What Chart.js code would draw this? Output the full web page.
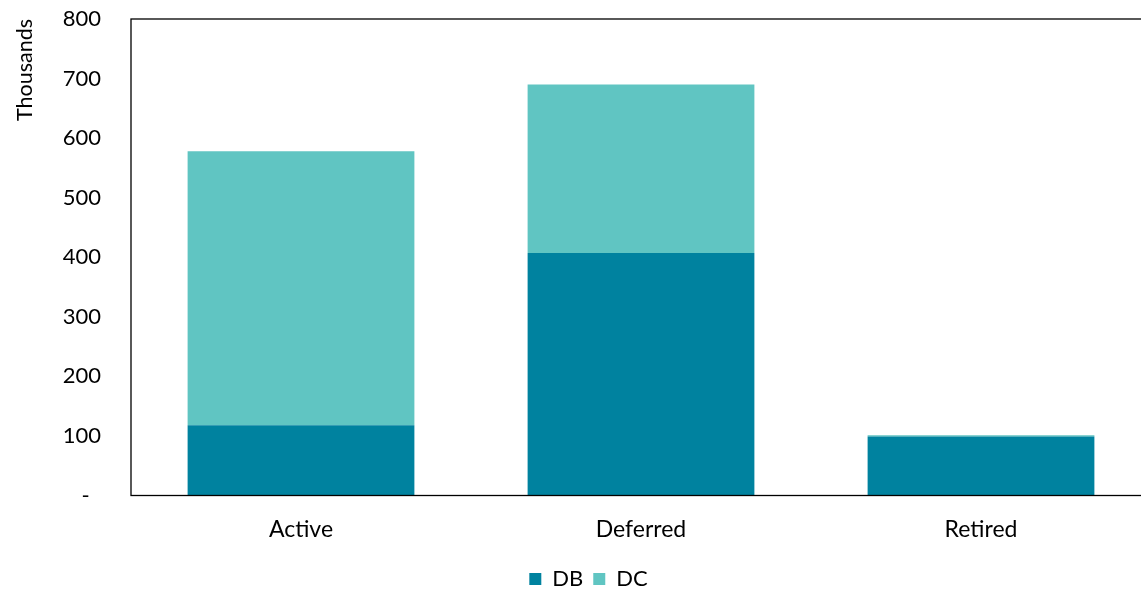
<!DOCTYPE html>
<html>
<head>
<meta charset="utf-8">
<script src="https://cdn.jsdelivr.net/npm/chart.js@4.4.1/dist/chart.umd.min.js"></script>
<style>
html, body { margin: 0; padding: 0; overflow: hidden; background: #fff; }
#wrap { width: 1160px; height: 590px; }
</style>
</head>
<body>
<div id="wrap"><canvas id="c" width="1160" height="590"></canvas></div>
<script>
const categories = ['Active', 'Deferred', 'Retired'];
const dbValues = [118, 407, 99];
const dcValues = [460, 283, 2];
const yTicks = [0, 100, 200, 300, 400, 500, 600, 700, 800];
const seriesNames = ['DB', 'DC'];
const axisTitle = 'Thousands';

const DB_COLOR = '#00829f';
const DC_COLOR = '#60c5c2';
const FONT = 'Lato';

const frame = {
  id: 'frame',
  afterDatasetsDraw(chart) {
    const a = chart.chartArea, ctx = chart.ctx;
    ctx.save();
    ctx.strokeStyle = '#000';
    ctx.lineWidth = 1.3;
    ctx.strokeRect(a.left, a.top, a.right - a.left, a.bottom - a.top);
    ctx.restore();
  }
};

new Chart(document.getElementById('c'), {
  type: 'bar',
  data: {
    labels: categories,
    datasets: [
      { label: seriesNames[0], data: dbValues, backgroundColor: DB_COLOR,
        barPercentage: 0.667, categoryPercentage: 1 },
      { label: seriesNames[1], data: dcValues, backgroundColor: DC_COLOR,
        barPercentage: 0.667, categoryPercentage: 1 }
    ]
  },
  options: {
    responsive: false,
    animation: false,
    layout: { padding: { left: 26, right: 9, top: 19, bottom: -10 } },
    plugins: {
      tooltip: { enabled: false },
      legend: {
        position: 'bottom',
        labels: {
          font: { family: FONT, size: 22 },
          color: '#000',
          boxWidth: 12, boxHeight: 12,
          padding: 10
        }
      }
    },
    scales: {
      x: {
        stacked: true,
        grid: { display: false, drawTicks: false },
        border: { display: false },
        ticks: { font: { family: FONT, size: 23 }, color: '#000', padding: 20 },
        afterFit(s) { s.height = 62.5; }
      },
      y: {
        stacked: true,
        min: 0, max: 800,
        afterBuildTicks(s) { s.ticks = yTicks.map(v => ({ value: v })); },
        grid: { display: true, drawOnChartArea: false, drawTicks: true,
                tickLength: 30, color: 'rgba(0,0,0,0)', tickColor: 'rgba(0,0,0,0)' },
        border: { display: false },
        ticks: {
          font: { family: FONT, size: 22 }, color: '#000', padding: 0,
          callback: v => v === 0 ? '-  ' : String(v)
        },
        title: {
          display: true, text: axisTitle, align: 'end',
          font: { family: FONT, size: 21.5 }, color: '#000',
          padding: { top: -14, bottom: 0 }
        },
        afterFit(s) { s.width = 105; }
      }
    }
  },
  plugins: [frame]
});
</script>
</body>
</html>
